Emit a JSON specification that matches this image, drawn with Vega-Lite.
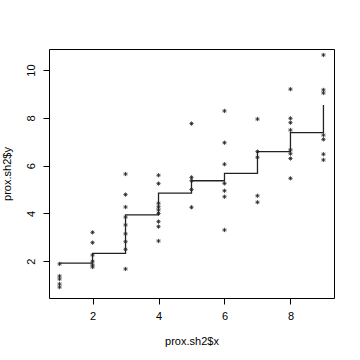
{
  "$schema": "https://vega.github.io/schema/vega-lite/v6.json",
  "width": 285,
  "height": 249,
  "autosize": {"type": "none"},
  "padding": {"left": 49, "top": 49, "right": 26, "bottom": 62},
  "background": "white",
  "config": {
    "view": {"stroke": "#000", "strokeWidth": 1},
    "axis": {
      "domain": false,
      "grid": false,
      "tickColor": "#000",
      "tickSize": 6,
      "labelFont": "Liberation Sans",
      "labelFontSize": 11,
      "labelColor": "#000",
      "titleFont": "Liberation Sans",
      "titleFontSize": 11,
      "titleFontWeight": "normal",
      "titleColor": "#000"
    }
  },
  "datasets": {
    "pts": [
      {"x": 1, "y": 1.89}, {"x": 1, "y": 1.38}, {"x": 1, "y": 1.26}, {"x": 1, "y": 1.05}, {"x": 1, "y": 0.92},
      {"x": 2, "y": 3.21}, {"x": 2, "y": 2.78}, {"x": 2, "y": 2.26}, {"x": 2, "y": 2.0}, {"x": 2, "y": 1.85}, {"x": 2, "y": 1.76},
      {"x": 3, "y": 5.65}, {"x": 3, "y": 4.79}, {"x": 3, "y": 4.27}, {"x": 3, "y": 3.85}, {"x": 3, "y": 3.52}, {"x": 3, "y": 3.15}, {"x": 3, "y": 2.82}, {"x": 3, "y": 2.5}, {"x": 3, "y": 1.68},
      {"x": 4, "y": 5.6}, {"x": 4, "y": 5.25}, {"x": 4, "y": 4.43}, {"x": 4, "y": 4.28}, {"x": 4, "y": 4.15}, {"x": 4, "y": 4.0}, {"x": 4, "y": 3.66}, {"x": 4, "y": 3.45}, {"x": 4, "y": 2.85},
      {"x": 5, "y": 7.76}, {"x": 5, "y": 5.51}, {"x": 5, "y": 5.37}, {"x": 5, "y": 5.0}, {"x": 5, "y": 4.26},
      {"x": 6, "y": 8.29}, {"x": 6, "y": 6.96}, {"x": 6, "y": 6.06}, {"x": 6, "y": 5.26}, {"x": 6, "y": 4.95}, {"x": 6, "y": 4.7}, {"x": 6, "y": 3.31},
      {"x": 7, "y": 7.95}, {"x": 7, "y": 6.59}, {"x": 7, "y": 6.35}, {"x": 7, "y": 4.74}, {"x": 7, "y": 4.47},
      {"x": 8, "y": 9.2}, {"x": 8, "y": 7.98}, {"x": 8, "y": 7.8}, {"x": 8, "y": 7.49}, {"x": 8, "y": 6.66}, {"x": 8, "y": 6.5}, {"x": 8, "y": 6.3}, {"x": 8, "y": 5.47},
      {"x": 9, "y": 10.63}, {"x": 9, "y": 9.17}, {"x": 9, "y": 9.04}, {"x": 9, "y": 7.28}, {"x": 9, "y": 7.1}, {"x": 9, "y": 6.48}, {"x": 9, "y": 6.24}
    ],
    "step": [
      {"x": 1, "y": 1.92}, {"x": 2, "y": 2.33}, {"x": 3, "y": 3.94}, {"x": 4, "y": 4.85}, {"x": 5, "y": 5.37},
      {"x": 6, "y": 5.68}, {"x": 7, "y": 6.59}, {"x": 8, "y": 7.38}, {"x": 9, "y": 8.54}
    ]
  },
  "encoding": {
    "x": {
      "field": "x", "type": "quantitative",
      "scale": {"domain": [0.68, 9.32], "nice": false, "zero": false},
      "axis": {"values": [2, 4, 6, 8], "title": "prox.sh2$x", "labelPadding": 6, "titlePadding": 14}
    },
    "y": {
      "field": "y", "type": "quantitative",
      "scale": {"domain": [0.465, 10.88], "nice": false, "zero": false},
      "axis": {"values": [2, 4, 6, 8, 10], "title": "prox.sh2$y", "labelAngle": -90, "labelAlign": "center", "labelBaseline": "bottom", "labelPadding": 7, "titlePadding": 13}
    }
  },
  "layer": [
    {
      "data": {"name": "step"},
      "mark": {"type": "line", "interpolate": "step-after", "color": "#222", "strokeWidth": 1.3}
    },
    {
      "data": {"name": "pts"},
      "mark": {"type": "point", "shape": "M-1,0L1,0M0,-1L0,1M-0.7,-0.7L0.7,0.7M-0.7,0.7L0.7,-0.7", "filled": false, "color": "#222", "strokeWidth": 0.8, "size": 18, "opacity": 1}
    }
  ]
}
